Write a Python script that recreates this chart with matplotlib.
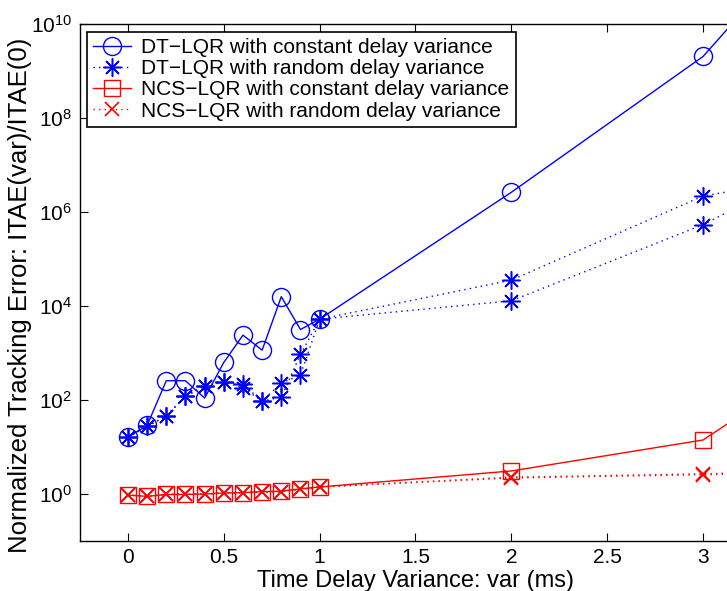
import matplotlib
matplotlib.use("Agg")
import matplotlib.pyplot as plt
import numpy as np

plt.rcParams['font.family'] = ['Liberation Sans', 'DejaVu Sans']

# delay variance (ms)
var_ms = [0, 0.1, 0.2, 0.3, 0.4, 0.5, 0.6, 0.7, 0.8, 0.9, 1.0, 2, 3, 4]

# normalized ITAE
dt_const = [16.2, 28.8, 257, 257, 110, 631, 2400, 1150, 15800, 3160, 5250, 2.63e6, 2.04e9, 7.9e13]
dt_rand_a = [16.2, 27.5, 45.7, 120, 200, 240, 214, 95, 229, 339, 5250, 3.55e4, 2.19e6, 1.1e7]
dt_rand_b = [16.2, 27.5, 45.7, 120, 200, 240, 182, 95, 115, 933, 5250, 1.29e4, 5.37e5, 6.6e7]
ncs_const = [0.95, 0.89, 0.98, 0.98, 1.0, 1.05, 1.07, 1.12, 1.15, 1.29, 1.41, 3.09, 14.1, 7080]
ncs_rand_a = [0.95, 0.89, 0.98, 0.98, 1.0, 1.05, 1.07, 1.10, 1.12, 1.26, 1.41, 2.19, 2.57, 3.2]
ncs_rand_b = [0.95, 0.89, 0.98, 0.98, 1.0, 1.05, 1.07, 1.10, 1.12, 1.26, 1.41, 2.29, 2.69, 3.5]

labels = ['DT\u2212LQR with constant delay variance',
          'DT\u2212LQR with random delay variance',
          'NCS\u2212LQR with constant delay variance',
          'NCS\u2212LQR with random delay variance']

W, H = 727, 591
fig = plt.figure(figsize=(W / 100, H / 100), dpi=100)
# axes runs past the right edge of the figure (cropped like the original)
ax = fig.add_axes([80 / W, 1 - 541 / H, (751 - 80) / W, (541 - 24) / H])

dots = (0, (1, 3))
star = (8, 2, 0)

ax.plot(var_ms, dt_const, color='b', lw=1.0, marker='o', ms=13, mfc='none', mew=1.0, label=labels[0])
ax.plot(var_ms, dt_rand_a, color='b', lw=1.0, ls=dots, marker=star, ms=13, mew=1.1, label=labels[1])
ax.plot(var_ms, dt_rand_b, color='b', lw=1.0, ls=dots, marker=star, ms=13, mew=1.1, label='_nolegend_')
ax.plot(var_ms, ncs_const, color='r', lw=1.0, marker='s', ms=11, mfc='none', mew=1.0, label=labels[2])
ax.plot(var_ms, ncs_rand_a, color='r', lw=1.0, ls=dots, marker='x', ms=10, mew=1.2, label=labels[3])
ax.plot(var_ms, ncs_rand_b, color='r', lw=1.0, ls=dots, marker='x', ms=10, mew=1.2, label='_nolegend_')

ax.set_yscale('log')
ax.set_xlim(-0.25, 3.25)
ax.set_ylim(1e-1, 1e10)
ax.set_xticks(np.arange(0, 3.01, 0.5))
ax.set_xticklabels(['0', '0.5', '1', '1.5', '2', '2.5', '3'])
ax.set_yticks([1e0, 1e2, 1e4, 1e6, 1e8, 1e10])
ax.yaxis.set_minor_locator(matplotlib.ticker.NullLocator())
ax.tick_params(which='major', direction='in', length=6, width=0.8, top=True, right=True,
               labelsize=15, pad=6)
ax.tick_params(axis='x', pad=5)
for sp in ax.spines.values():
    sp.set_linewidth(1.0)

ax.set_xlabel('Time Delay Variance: var (ms)', fontsize=17)
ax.xaxis.set_label_coords(0.5, -0.057)
ax.set_ylabel('Normalized Tracking Error: ITAE(var)/ITAE(0)', fontsize=18.5)
ax.yaxis.set_label_coords(-0.072, 0.475)

leg = ax.legend(loc='upper left', bbox_to_anchor=(0.0104, 0.9845), fontsize=15,
                handlelength=1.8, handletextpad=0.5, borderpad=0.3, labelspacing=0.1,
                borderaxespad=0, fancybox=False, framealpha=1, edgecolor='k')
leg.get_frame().set_linewidth(1.2)

fig.savefig('out.png', dpi=100)
